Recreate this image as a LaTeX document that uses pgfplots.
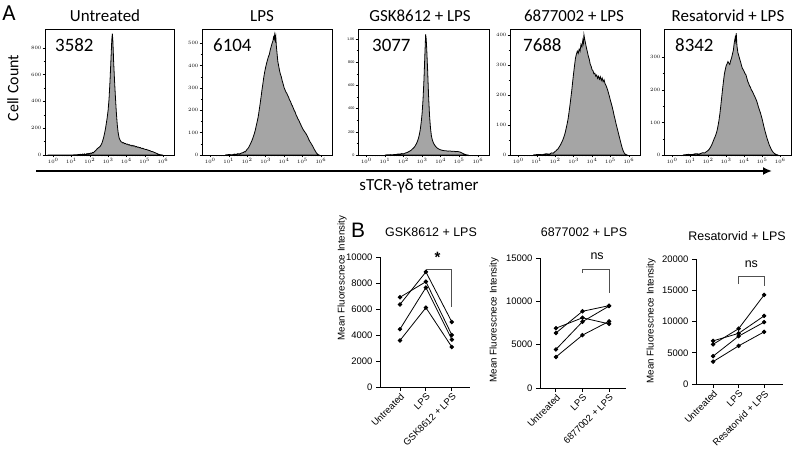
\documentclass[border=0pt]{standalone}
\usepackage{pgfplots}
\pgfplotsset{compat=1.18}
\usepackage{fontspec}
\setmainfont{Carlito}
\newfontfamily\arial{Liberation Sans}
\usetikzlibrary{arrows.meta}
\definecolor{histfill}{RGB}{165,165,165}
\definecolor{brk}{RGB}{80,80,80}

\pgfplotsset{
 histo/.style={scale only axis, height=126bp, xmin=-0.45, xmax=6.6, ymin=0,
   anchor=south west,
   axis line style={line width=0.6bp},
   tick pos=left, tick align=outside,
   major tick length=2.5bp, minor tick length=1.3bp,
   tick style={black, line width=0.4bp},
   xtick={0,1,2,3,4,5,6},
   xticklabels={$10^0$,$10^1$,$10^2$,$10^3$,$10^4$,$10^5$,$10^6$},
   minor xtick={0.301,1.301,...,5.301,0.477,1.477,...,5.477,0.602,1.602,...,5.602,0.699,1.699,...,5.699,0.778,1.778,...,5.778,0.845,1.845,...,5.845,0.903,1.903,...,5.903,0.954,1.954,...,5.954},
   minor y tick num=1,
   tick label style={font=\fontsize{4}{4}\selectfont, inner sep=1bp},
 },
 histplot/.style={fill=histfill, draw=black, line width=0.8bp},
 mfi/.style={scale only axis, anchor=south west, clip=false,
   axis x line*=bottom, axis y line*=left,
   axis line style={line width=0.9bp, black},
   ymin=0, xtick={0,1,2},
   tick align=outside, major tick length=4bp,
   tick style={black, line width=0.9bp},
   tick label style={font=\arial\fontsize{9.5}{11}\selectfont},
   x tick label style={rotate=45, anchor=north east, inner sep=1bp},
   y tick label style={/pgf/number format/1000 sep={}, /pgf/number format/assume math mode=true},
   scaled y ticks=false, minor tick num=0,
 },
 donor/.style={black, line width=0.8bp, mark=*, mark size=1.8bp, mark options={solid, fill=black}},
}

\begin{document}
\begin{tikzpicture}
\path[use as bounding box] (0,0) rectangle (792bp,452bp);

% ---------------- Panel A ----------------
\node[font=\fontsize{23}{23}\selectfont] at (9bp,439bp) {A};
\node[font=\fontsize{16}{16}\selectfont, rotate=90] at (13bp,364bp) {Cell Count};

% Untreated
\begin{axis}[histo, at={(45bp,297bp)}, width=129bp, ymax=940, ytick={0,200,400,600,800}]
\addplot[histplot] coordinates {
(-0.3,0)(1.0,0)(1.3,2)(1.5,5)(1.55,3)(1.6,7)(1.65,2)(1.7,9)(1.75,4)(1.8,6)(1.85,11)(1.9,7)(1.95,12)(2.0,9)(2.05,15)(2.1,12)(2.15,19)(2.2,16)(2.25,26)(2.3,30)(2.35,38)(2.4,46)(2.45,52)(2.5,57)(2.55,62)(2.6,72)(2.65,85)(2.7,105)(2.75,128)(2.8,158)(2.85,192)(2.9,235)(2.95,280)(3.0,335)(3.05,420)(3.1,545)(3.15,700)(3.2,860)(3.23,905)(3.26,850)(3.3,700)(3.35,555)(3.4,430)(3.45,315)(3.5,225)(3.55,165)(3.6,128)(3.65,112)(3.7,100)(3.75,96)(3.8,90)(3.85,92)(3.9,84)(3.95,86)(4.0,80)(4.05,82)(4.1,75)(4.15,78)(4.2,71)(4.25,74)(4.3,67)(4.35,72)(4.4,66)(4.45,68)(4.5,61)(4.55,63)(4.6,58)(4.65,60)(4.7,54)(4.75,56)(4.8,51)(4.85,49)(4.9,50)(4.95,45)(5.0,44)(5.05,41)(5.1,42)(5.15,37)(5.2,36)(5.25,33)(5.3,32)(5.35,27)(5.4,26)(5.45,24)(5.5,21)(5.55,18)(5.6,15)(5.65,12)(5.7,9)(5.75,6)(5.8,4)(5.85,2)(5.9,1)(6.0,0)
} \closedcycle;
\end{axis}

% LPS
\begin{axis}[histo, at={(202bp,297bp)}, width=130bp, ymax=564, ytick={0,100,200,300,400,500}]
\addplot[histplot] coordinates {
(0.8,0)(1.0,2)(1.2,1)(1.3,4)(1.4,3)(1.5,6)(1.6,5)(1.7,9)(1.8,11)(1.85,15)(1.9,14)(1.95,20)(2.0,26)(2.05,30)(2.1,37)(2.15,45)(2.2,54)(2.25,63)(2.3,74)(2.35,86)(2.4,99)(2.45,115)(2.5,134)(2.55,152)(2.6,172)(2.65,200)(2.7,228)(2.75,258)(2.8,290)(2.85,318)(2.9,348)(2.95,372)(3.0,392)(3.05,410)(3.1,425)(3.15,440)(3.2,450)(3.25,470)(3.3,485)(3.35,500)(3.4,512)(3.43,528)(3.46,520)(3.49,538)(3.52,515)(3.55,532)(3.58,490)(3.62,455)(3.66,420)(3.7,402)(3.75,380)(3.8,362)(3.85,350)(3.9,332)(3.95,318)(4.0,302)(4.05,292)(4.1,282)(4.15,276)(4.2,266)(4.25,258)(4.3,246)(4.35,240)(4.4,228)(4.45,220)(4.5,210)(4.55,200)(4.6,192)(4.65,180)(4.7,172)(4.75,162)(4.8,155)(4.85,146)(4.9,137)(4.95,128)(5.0,120)(5.05,112)(5.1,106)(5.15,100)(5.2,94)(5.25,86)(5.3,78)(5.35,68)(5.4,60)(5.45,54)(5.5,47)(5.55,40)(5.6,32)(5.65,24)(5.7,17)(5.75,10)(5.8,5)(5.85,2)(5.9,0)
} \closedcycle;
\end{axis}

% GSK8612 + LPS
\begin{axis}[histo, at={(358bp,297bp)}, width=131bp, ymax=1086, ytick={0,200,400,600,800,1000}, yticklabels={0,200,400,600,800,1.0K}]
\addplot[histplot] coordinates {
(1.0,0)(1.3,3)(1.4,1)(1.5,5)(1.6,4)(1.7,9)(1.8,7)(1.9,12)(2.0,10)(2.1,17)(2.2,22)(2.3,30)(2.4,40)(2.45,48)(2.5,55)(2.55,62)(2.6,72)(2.65,85)(2.7,100)(2.75,118)(2.8,142)(2.85,175)(2.9,218)(2.95,280)(3.0,360)(3.05,480)(3.1,650)(3.15,870)(3.19,1040)(3.22,1000)(3.25,910)(3.3,720)(3.35,505)(3.4,340)(3.45,235)(3.5,165)(3.55,130)(3.6,108)(3.65,92)(3.7,80)(3.75,70)(3.8,62)(3.85,56)(3.9,51)(3.95,47)(4.0,44)(4.1,40)(4.2,37)(4.3,36)(4.4,33)(4.5,35)(4.6,31)(4.7,33)(4.8,29)(4.9,31)(5.0,27)(5.05,25)(5.1,21)(5.15,17)(5.2,13)(5.25,9)(5.3,6)(5.35,3)(5.4,1)(5.5,0)
} \closedcycle;
\end{axis}

% 6877002 + LPS
\begin{axis}[histo, at={(510bp,297bp)}, width=130bp, ymax=419, ytick={0,100,200,300,400}]
\addplot[histplot] coordinates {
(0.8,0)(1.1,2)(1.3,1)(1.5,4)(1.7,3)(1.8,7)(1.9,6)(2.0,12)(2.05,14)(2.1,18)(2.15,20)(2.2,25)(2.25,30)(2.3,35)(2.35,42)(2.4,48)(2.45,56)(2.5,65)(2.55,76)(2.6,90)(2.65,104)(2.7,120)(2.75,142)(2.8,165)(2.85,190)(2.9,215)(2.95,245)(3.0,272)(3.05,298)(3.1,322)(3.15,335)(3.2,345)(3.25,338)(3.3,352)(3.35,345)(3.4,368)(3.45,360)(3.5,382)(3.53,372)(3.56,400)(3.6,385)(3.65,370)(3.7,355)(3.75,342)(3.8,328)(3.85,318)(3.9,302)(3.95,295)(4.0,284)(4.05,280)(4.1,270)(4.15,272)(4.2,262)(4.25,266)(4.3,255)(4.35,262)(4.4,252)(4.45,260)(4.5,248)(4.55,256)(4.6,244)(4.65,250)(4.7,238)(4.75,232)(4.8,224)(4.85,215)(4.9,204)(4.95,193)(5.0,180)(5.05,170)(5.1,158)(5.15,145)(5.2,130)(5.25,118)(5.3,104)(5.35,92)(5.4,80)(5.45,67)(5.5,55)(5.55,43)(5.6,31)(5.65,20)(5.7,12)(5.75,6)(5.8,3)(5.9,0)
} \closedcycle;
\end{axis}

% Resatorvid + LPS
\begin{axis}[histo, at={(664bp,297bp)}, width=127bp, ymax=387, ytick={0,100,200,300}]
\addplot[histplot] coordinates {
(0.6,0)(0.9,2)(1.1,1)(1.3,4)(1.5,3)(1.7,7)(1.8,6)(1.9,10)(2.0,14)(2.05,17)(2.1,21)(2.15,26)(2.2,31)(2.25,38)(2.3,45)(2.35,52)(2.4,58)(2.45,66)(2.5,76)(2.55,90)(2.6,106)(2.65,126)(2.7,150)(2.75,176)(2.8,202)(2.85,226)(2.9,248)(2.95,262)(3.0,274)(3.05,280)(3.1,287)(3.15,282)(3.2,278)(3.25,290)(3.3,298)(3.35,310)(3.4,322)(3.45,345)(3.5,360)(3.53,350)(3.56,374)(3.6,335)(3.65,315)(3.7,305)(3.75,295)(3.8,286)(3.85,275)(3.9,266)(3.95,262)(4.0,256)(4.05,250)(4.1,246)(4.15,236)(4.2,226)(4.25,220)(4.3,212)(4.35,208)(4.4,200)(4.45,196)(4.5,190)(4.55,184)(4.6,178)(4.65,172)(4.7,165)(4.75,156)(4.8,146)(4.85,138)(4.9,130)(4.95,120)(5.0,110)(5.05,98)(5.1,86)(5.15,75)(5.2,65)(5.25,55)(5.3,46)(5.35,38)(5.4,30)(5.45,24)(5.5,18)(5.55,13)(5.6,9)(5.65,6)(5.7,4)(5.8,1)(5.9,0)
} \closedcycle;
\end{axis}

% titles and values
\begin{scope}[font=\fontsize{17}{17}\selectfont]
\node at (105bp,436bp) {Untreated};
\node at (262bp,436bp) {LPS};
\node at (420bp,436bp) {GSK8612 + LPS};
\node at (574bp,436bp) {6877002 + LPS};
\node at (728bp,436bp) {Resatorvid + LPS};
\end{scope}
\begin{scope}[font=\fontsize{19}{19}\selectfont]
\node[anchor=west, inner sep=0] at (55bp,407bp) {3582};
\node[anchor=west, inner sep=0] at (213bp,407bp) {6104};
\node[anchor=west, inner sep=0] at (372bp,407bp) {3077};
\node[anchor=west, inner sep=0] at (523bp,407bp) {7688};
\node[anchor=west, inner sep=0] at (675bp,407bp) {8342};
\end{scope}

\draw[line width=2.2bp, -{Latex[length=9bp,width=8bp]}] (36bp,281bp) -- (772bp,281bp);
\node[font=\fontsize{17}{17}\selectfont] at (419bp,266bp) {sTCR-γδ tetramer};

% ---------------- Panel B ----------------
\node[font=\arial\fontsize{21}{21}\selectfont] at (358bp,222bp) {B};

% GSK8612
\begin{axis}[mfi, at={(380bp,65bp)}, width=90bp, height=130bp,
  xmin=-0.77, xmax=2.7, ymax=10000, ytick={0,2000,4000,6000,8000,10000},
  xticklabels={Untreated,LPS,GSK8612 + LPS}]
\addplot[donor] coordinates {(0,6900)(1,8100)(2,4000)};
\addplot[donor] coordinates {(0,6350)(1,8850)(2,5000)};
\addplot[donor] coordinates {(0,4450)(1,7650)(2,3650)};
\addplot[donor] coordinates {(0,3580)(1,6100)(2,3077)};
\draw[brk, line width=0.8bp] (axis cs:1,8700) -- (axis cs:1,9080) -- (axis cs:2,9080) -- (axis cs:2,6150);
\node[font=\arial\bfseries\fontsize{15}{15}\selectfont] at (axis cs:1.45,10000) {*};
\end{axis}

% 6877002
\begin{axis}[mfi, at={(540bp,64bp)}, width=86bp, height=130bp,
  xmin=-0.6, xmax=2.64, ymax=15000, ytick={0,5000,10000,15000},
  xticklabels={Untreated,LPS,6877002 + LPS}]
\addplot[donor] coordinates {(0,6900)(1,8100)(2,7400)};
\addplot[donor] coordinates {(0,6350)(1,8850)(2,9500)};
\addplot[donor] coordinates {(0,4450)(1,7650)(2,9450)};
\addplot[donor] coordinates {(0,3580)(1,6100)(2,7688)};
\draw[brk, line width=0.8bp] (axis cs:1,13270) -- (axis cs:1,13730) -- (axis cs:2,13730) -- (axis cs:2,10960);
\node[font=\arial\fontsize{12.5}{12.5}\selectfont] at (axis cs:1.55,15200) {ns};
\end{axis}

% Resatorvid
\begin{axis}[mfi, at={(696bp,68bp)}, width=87bp, height=125bp,
  xmin=-0.67, xmax=2.74, ymax=20000, ytick={0,5000,10000,15000,20000},
  xticklabels={Untreated,LPS,Resatorvid + LPS}]
\addplot[donor] coordinates {(0,6900)(1,8100)(2,10900)};
\addplot[donor] coordinates {(0,6350)(1,8850)(2,14250)};
\addplot[donor] coordinates {(0,4450)(1,7650)(2,9900)};
\addplot[donor] coordinates {(0,3580)(1,6100)(2,8342)};
\draw[brk, line width=0.8bp] (axis cs:1,16000) -- (axis cs:1,17280) -- (axis cs:2,17280) -- (axis cs:2,15680);
\node[font=\arial\fontsize{12.5}{12.5}\selectfont] at (axis cs:1.5,19100) {ns};
\end{axis}

\begin{scope}[font=\arial\fontsize{9.8}{10}\selectfont]
\node[rotate=90] at (342bp,174bp) {Mean Fluorescnece Intensity};
\node[rotate=90] at (494bp,132bp) {Mean Fluorescnece Intensity};
\node[rotate=90] at (651bp,131bp) {Mean Fluorescnece Intensity};
\end{scope}
\begin{scope}[font=\arial\fontsize{12.5}{12.5}\selectfont]
\node at (431bp,220bp) {GSK8612 + LPS};
\node at (584bp,220bp) {6877002 + LPS};
\node at (737bp,216bp) {Resatorvid + LPS};
\end{scope}
\end{tikzpicture}
\end{document}
